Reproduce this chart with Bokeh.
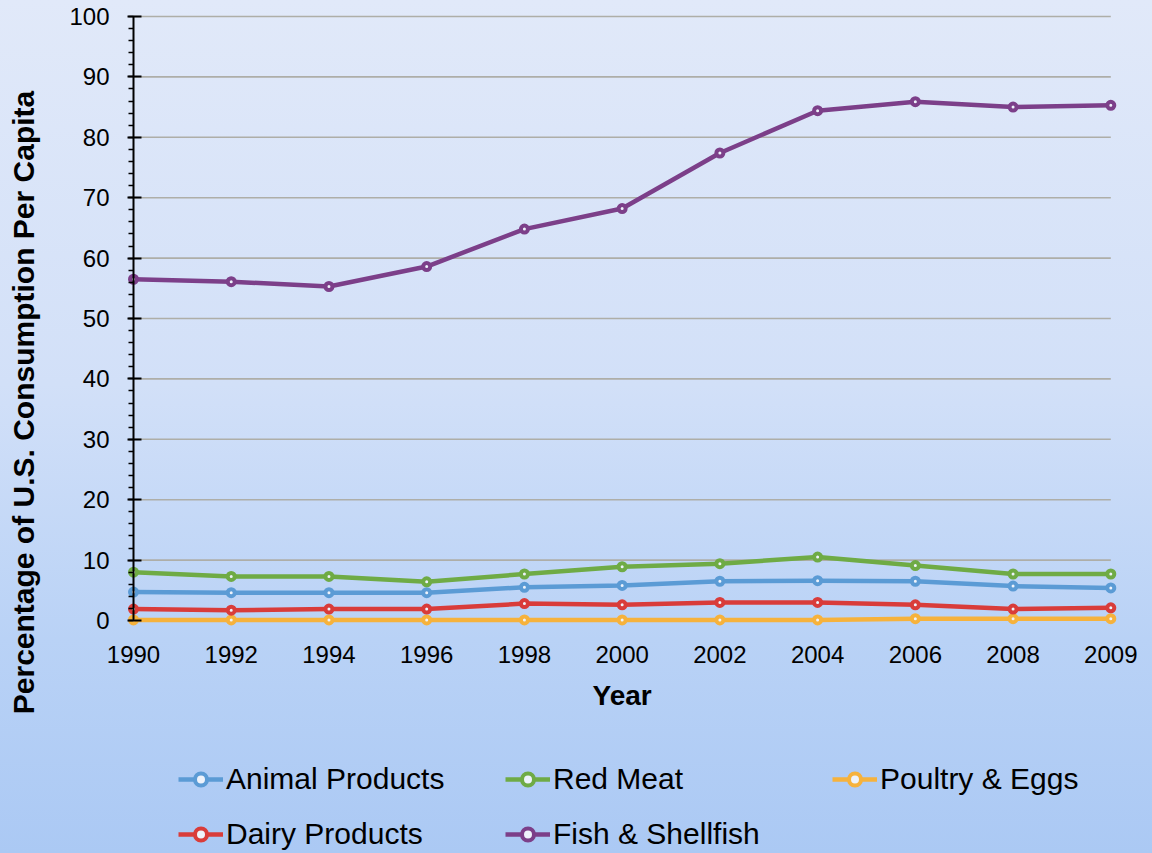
from bokeh.plotting import figure
from bokeh.models import (Range1d, FixedTicker, SingleIntervalTicker, Legend,
                          LegendItem, Label)
from bokeh.embed import file_html
from bokeh.resources import INLINE

# Share of U.S. per-capita consumption, by product group
years = ["1990", "1992", "1994", "1996", "1998", "2000",
         "2002", "2004", "2006", "2008", "2009"]
animal_products = [4.7, 4.6, 4.6, 4.6, 5.5, 5.8, 6.5, 6.6, 6.5, 5.7, 5.4]
red_meat = [8.0, 7.3, 7.3, 6.4, 7.7, 8.9, 9.4, 10.5, 9.1, 7.7, 7.7]
poultry_eggs = [0.1, 0.1, 0.1, 0.1, 0.1, 0.1, 0.1, 0.1, 0.3, 0.3, 0.3]
dairy_products = [1.9, 1.7, 1.9, 1.9, 2.8, 2.6, 3.0, 3.0, 2.6, 1.9, 2.1]
fish_shellfish = [56.5, 56.1, 55.3, 58.6, 64.8, 68.2, 77.4, 84.4, 85.9, 85.0, 85.3]

series = [
    ("Animal Products", animal_products, "#5b9bd5"),
    ("Red Meat", red_meat, "#6fab45"),
    ("Poultry & Eggs", poultry_eggs, "#f6b23c"),
    ("Dairy Products", dairy_products, "#d93c3a"),
    ("Fish & Shellfish", fish_shellfish, "#7c3f89"),
]
y_ticks = [0, 10, 20, 30, 40, 50, 60, 70, 80, 90, 100]

FONT = "Liberation Sans"
W, H = 1152, 853
positions = list(range(len(years)))

# pixel layout of the plotting area inside the canvas
X0_PX, X_UNIT = 133.0, 97.73      # x position of first year, px per step
Y0_PX, Y_UNIT = 620.0, 6.04       # y position of 0 %, px per percent

x_range = Range1d(-X0_PX / X_UNIT, (W - X0_PX) / X_UNIT)
y_range = Range1d(-(H - Y0_PX) / Y_UNIT, Y0_PX / Y_UNIT)

p = figure(width=W, height=H, x_range=x_range, y_range=y_range,
           output_backend="svg", toolbar_location=None, min_border=0)

# transparent canvas over a soft blue gradient page
p.background_fill_alpha = 0
p.border_fill_alpha = 0
p.outline_line_color = None
p.styles = {"background": "linear-gradient(to bottom, #e1e9f9 0%, #d2e0f8 45%, #b9d2f6 75%, #abc9f4 100%)"}
p.xgrid.visible = False
p.ygrid.visible = False

# horizontal gridlines between the first and the last year
grid_vals = y_ticks[1:]
p.segment(x0=[positions[0]] * len(grid_vals), y0=grid_vals,
          x1=[positions[-1]] * len(grid_vals), y1=grid_vals,
          line_color="#aeaea8", line_width=1.6)

# y axis pinned at the first year
yax = p.yaxis[0]
yax.ticker = SingleIntervalTicker(interval=10, num_minor_ticks=5)
yax.fixed_location = positions[0]
yax.bounds = (y_ticks[0], y_ticks[-1])
yax.axis_line_color = "black"
yax.axis_line_width = 2
yax.major_tick_in = 8
yax.major_tick_out = 6
yax.major_tick_line_width = 2
yax.minor_tick_in = 0
yax.minor_tick_out = 5
yax.minor_tick_line_width = 1.5
yax.major_label_standoff = 18
yax.major_label_text_font = FONT
yax.major_label_text_font_size = "24px"
yax.major_label_text_color = "black"

# x axis pinned at 0 %
xax = p.xaxis[0]
xax.ticker = FixedTicker(ticks=positions)
xax.major_label_overrides = {i: y for i, y in zip(positions, years)}
xax.fixed_location = y_ticks[0]
xax.bounds = (positions[0], positions[-1])
xax.axis_line_color = None
xax.major_tick_line_color = None
xax.minor_tick_line_color = None
xax.major_label_standoff = 19
xax.major_label_text_font = FONT
xax.major_label_text_font_size = "24px"
xax.major_label_text_color = "black"

items = []
for name, vals, color in series:
    ln = p.line(positions, vals, line_color=color, line_width=4.5,
                line_join="round")
    mk = p.scatter(positions, vals, size=7, marker="circle",
                   line_color=color, line_width=4, fill_color="#eef3fb")
    items.append(LegendItem(label=name, renderers=[ln, mk]))

legend = Legend(items=items, location=(178, 2.5), orientation="horizontal",
                ncols=3, glyph_width=45, glyph_height=30,
                label_height=30, label_width=258, label_standoff=3,
                spacing=21, padding=0, margin=0,
                border_line_alpha=0, background_fill_alpha=0,
                label_text_font=FONT, label_text_font_size="30px",
                label_text_color="black")
p.add_layout(legend)

xtitle = Label(x=(positions[0] + positions[-1]) / 2, y=H - 695,
               x_units="data", y_units="screen", text="Year",
               text_align="center", text_baseline="middle",
               text_font=FONT, text_font_size="28px", text_font_style="bold",
               text_color="black")
p.add_layout(xtitle)

ytitle = Label(x=23, y=H - 402, x_units="screen", y_units="screen",
               text="Percentage of U.S. Consumption Per Capita",
               angle=1.5707963, text_align="center", text_baseline="middle",
               text_font=FONT, text_font_size="30px", text_font_style="bold",
               text_color="black")
p.add_layout(ytitle)

open("out.html", "w").write(file_html(p, INLINE))
